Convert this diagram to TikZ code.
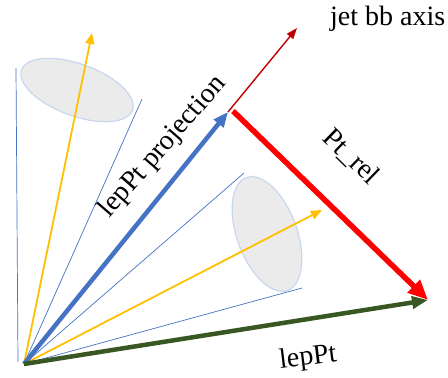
\documentclass[tikz,border=0pt]{standalone}
\usepackage{fontspec}
\setmainfont{Liberation Serif}
\newfontfamily\lblfont{Liberation Serif}
\usetikzlibrary{arrows.meta,positioning}
\definecolor{coneblue}{HTML}{4472C4}
\definecolor{trkyellow}{HTML}{FFC000}
\definecolor{jetgray}{HTML}{EBEBEB}
\definecolor{jetedge}{HTML}{C9D7EE}
\definecolor{axisred}{HTML}{C00000}
\definecolor{relred}{HTML}{FF0000}
\definecolor{lepgreen}{HTML}{385723}
\tikzstyle{jet}=[fill=jetgray,draw=jetedge,line width=1.2pt]
\tikzstyle{cone}=[draw=coneblue,line width=0.7pt]
\tikzstyle{trk}=[-{Triangle[length=11pt,width=9pt]},draw=trkyellow,line width=1.8pt]
\tikzstyle{proj}=[-{Triangle[length=15pt,width=12pt]},draw=coneblue,line width=4.5pt]
\tikzstyle{jaxis}=[-{Triangle[length=11pt,width=8pt]},draw=axisred,line width=1.4pt]
\tikzstyle{rel}=[-{Triangle[length=20pt,width=17pt]},draw=relred,line width=5.5pt]
\tikzstyle{lep}=[-{Triangle[length=16pt,width=12pt]},draw=lepgreen,line width=4.5pt]
\tikzstyle{lbl}=[font=\lblfont\fontsize{28}{30}\selectfont,inner sep=0pt]

\begin{document}
\begin{tikzpicture}[x=1pt,y=-1pt]
\useasboundingbox (0,0) rectangle (448,378);
% points
\coordinate (O) at (24,364);
\coordinate (Ol) at (18,362);
\coordinate (c1a) at (16,68);
\coordinate (c1b) at (142,99);
\coordinate (c2a) at (244,173);
\coordinate (c2b) at (302,288);
\coordinate (t1) at (92,33);
\coordinate (t2) at (322,210);
\coordinate (P) at (228,112);
\coordinate (Pr) at (233,111);
\coordinate (J) at (297,28);
\coordinate (L) at (428,300);
% jets
\draw [jet,rotate around={-20:(77,90)}] (77,90) ellipse (59 and 26);
\draw [jet,rotate around={-70:(267,234)}] (267,234) ellipse (60 and 30);
% cones
\draw [cone] (Ol) -- (c1a);
\draw [cone] (O) -- (c1b);
\draw [cone] (O) -- (c2a);
\draw [cone] (O) -- (c2b);
% tracks
\draw [trk] (O) -- (t1);
\draw [trk] (O) -- (t2);
% vectors
\draw [proj] (O) -- (P);
\draw [jaxis] (P) -- (J);
\draw [rel] (Pr) -- (L);
\draw [lep] (O) -- (L);
% labels
\node (axlbl) [lbl,anchor=base west] at (330,25) {jet bb axis};
\node (projlbl) [lbl,rotate=49] at (163,147) {lepPt projection};
\node (rellbl) [lbl,rotate=-44] at (351,157) {Pt\_rel};
\node (leplbl) [lbl,rotate=7] at (308,358) {lepPt};
\end{tikzpicture}
\end{document}
